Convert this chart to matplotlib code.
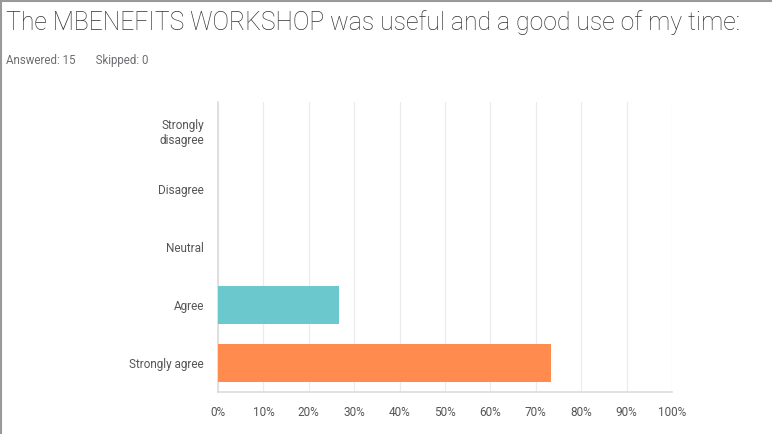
import matplotlib.pyplot as plt
from matplotlib.lines import Line2D

categories = ['Strongly\ndisagree', 'Disagree', 'Neutral', 'Agree', 'Strongly agree']
percent = [0.0, 0.0, 0.0, 26.67, 73.33]
bar_colors = ['#6bc8cd', '#6bc8cd', '#6bc8cd', '#6bc8cd', '#ff8b4f']
x_ticks = list(range(0, 101, 10))

plt.rcParams['font.family'] = ['Roboto', 'DejaVu Sans']

fig = plt.figure(figsize=(7.72, 4.34), dpi=100)
ax = fig.add_axes([218 / 772, 1 - 392 / 434, 454 / 772, 290 / 434])

ypos = list(range(len(categories)))
ax.barh(ypos, percent, height=0.67, color=bar_colors, zorder=3)
ax.set_yticks(ypos)
ax.set_yticklabels(categories, fontsize=8.5, color='#555555', linespacing=1.15)
ax.set_ylim(len(categories) - 0.5, -0.5)

ax.set_xlim(0, 100)
ax.set_xticks(x_ticks)
ax.set_xticklabels([f'{t}%' for t in x_ticks], fontsize=8.5, color='#555555')
ax.grid(axis='x', color='#ececec', linewidth=0.9, zorder=0)
ax.tick_params(axis='y', length=0, pad=10)
ax.tick_params(axis='x', length=0, pad=10)

for side in ['top', 'right']:
    ax.spines[side].set_visible(False)
for side in ['left', 'bottom']:
    ax.spines[side].set_color('#dcdcdc')
    ax.spines[side].set_linewidth(1.2)

fig.text(6 / 772, 1 - 23 / 434, 'The MBENEFITS WORKSHOP was useful and a good use of my time:',
         fontsize=17.8, color='#333333', va='center', ha='left', fontweight='light')
fig.text(6 / 772, 1 - 60 / 434, 'Answered: 15       Skipped: 0',
         fontsize=8.3, color='#6d6e71', va='center', ha='left')

# page frame on left and top
fig.add_artist(Line2D([0.001, 0.001], [0, 1], transform=fig.transFigure, color='#999999', lw=1.5))
fig.add_artist(Line2D([0, 1], [0.998, 0.998], transform=fig.transFigure, color='#999999', lw=1.5))

fig.savefig('out.png', dpi=100)
